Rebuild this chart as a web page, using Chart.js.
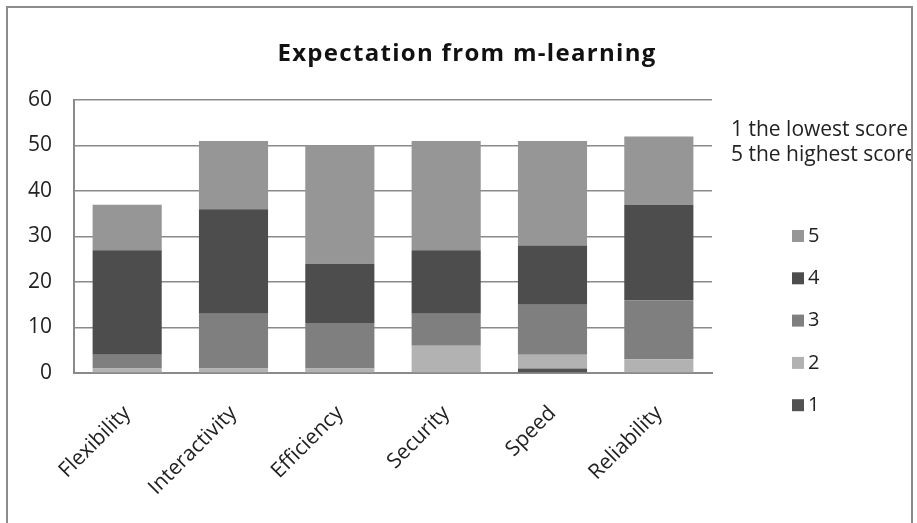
<!DOCTYPE html>
<html>
<head>
<meta charset="utf-8">
<script src="https://cdn.jsdelivr.net/npm/chart.js@4.4.1/dist/chart.umd.min.js"></script>
<style>
  html, body { margin: 0; padding: 0; background: #ffffff; }
  #wrap { width: 917px; height: 523px; }
</style>
</head>
<body>
<div id="wrap"><canvas id="c" width="917" height="523"></canvas></div>
<script>
// Survey answers per feature, split by score (1 = lowest, 5 = highest)
const categories = ['Flexibility', 'Interactivity', 'Efficiency', 'Security', 'Speed', 'Reliability'];
const score1 = [0, 0, 0, 0, 1, 0];
const score2 = [1, 1, 1, 6, 3, 3];
const score3 = [3, 12, 10, 7, 11, 13];
const score4 = [23, 23, 13, 14, 13, 21];
const score5 = [10, 15, 26, 24, 23, 15];
const seriesNames = ['1', '2', '3', '4', '5'];
const yTicks = [0, 10, 20, 30, 40, 50, 60];
const chartTitle = 'Expectation from m-learning';
const scaleNotes = ['1 the lowest score', '5 the highest score'];

const seriesColors = ['#525252', '#b2b2b2', '#7f7f7f', '#4d4d4d', '#969696'];
const FONT = '"Open Sans", "Liberation Sans", sans-serif';

const seriesValues = [score1, score2, score3, score4, score5];
const datasets = seriesNames.map((name, i) => ({
  label: name,
  data: seriesValues[i],
  backgroundColor: seriesColors[i],
  borderWidth: 0,
  barPercentage: 0.65,
  categoryPercentage: 1.0
}));

// Title, score notes, legend and outer frame drawn on the same canvas
const decorations = {
  id: 'decorations',
  afterDraw(chart) {
    const ctx = chart.ctx;
    ctx.save();

    // title
    ctx.fillStyle = '#111111';
    ctx.font = 'bold 24px ' + FONT;
    ctx.letterSpacing = '1.3px';
    ctx.textAlign = 'center';
    ctx.textBaseline = 'middle';
    ctx.fillText(chartTitle, 467, 54);
    ctx.letterSpacing = '0px';

    // score notes, clipped by the frame
    ctx.save();
    ctx.beginPath();
    ctx.rect(0, 0, 911, 523);
    ctx.clip();
    ctx.font = '21px ' + FONT;
    ctx.textAlign = 'left';
    ctx.fillStyle = '#222222';
    scaleNotes.forEach((t, i) => ctx.fillText(t, 731, 130 + i * 25));
    ctx.restore();

    // legend, highest score on top
    const ds = chart.data.datasets;
    ctx.font = '20px ' + FONT;
    ctx.textAlign = 'left';
    ctx.textBaseline = 'middle';
    for (let k = 0; k < ds.length; k++) {
      const d = ds[ds.length - 1 - k];
      const y = 236 + k * 42.3;
      ctx.fillStyle = d.backgroundColor;
      ctx.fillRect(792, y - 6, 12, 12);
      ctx.fillStyle = '#222222';
      ctx.fillText(d.label, 808, y);
    }

    // outer frame
    ctx.strokeStyle = '#8c8c8c';
    ctx.lineWidth = 2;
    ctx.strokeRect(7, 7, 905, 530);
    ctx.restore();
  }
};

new Chart(document.getElementById('c'), {
  type: 'bar',
  data: { labels: categories, datasets },
  options: {
    responsive: false,
    animation: false,
    devicePixelRatio: 1,
    layout: { padding: { left: 0, top: 100, right: 205, bottom: 0 } },
    plugins: {
      legend: { display: false },
      tooltip: { enabled: false },
      title: { display: false }
    },
    scales: {
      x: {
        stacked: true,
        grid: { display: false, drawTicks: false },
        border: { display: true, color: '#8a8a8a', width: 2 },
        ticks: {
          color: '#222222',
          font: { family: FONT, size: 21 },
          minRotation: 45,
          maxRotation: 45,
          padding: 28
        },
        afterFit(scale) { scale.height = 150; }
      },
      y: {
        stacked: true,
        min: 0,
        max: 60,
        grid: { color: '#8a8a8a', lineWidth: 1.5, drawTicks: false },
        border: { display: true, color: '#8a8a8a', width: 2 },
        afterBuildTicks(scale) { scale.ticks = yTicks.map(v => ({ value: v })); },
        ticks: {
          color: '#222222',
          font: { family: FONT, size: 21 },
          padding: 22
        },
        afterFit(scale) { scale.width = 74; }
      }
    }
  },
  plugins: [decorations]
});
</script>
</body>
</html>
